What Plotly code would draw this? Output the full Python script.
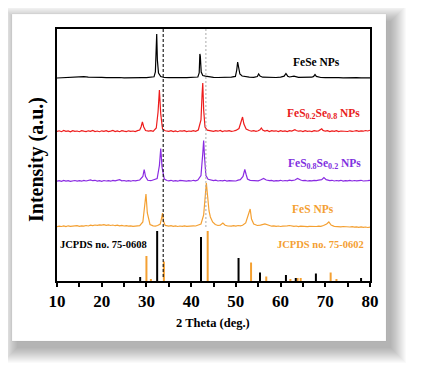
import plotly.graph_objects as go

# ---------------- data ----------------
# 2-theta positions and intensities (arbitrary units above each pattern's baseline)
fese_x = [10,11,12,13,14,15,16,17,18,19,20,21,22,23,24,25,26,27,28,29,30,31,31.7,32.0,32.15,32.3,32.45,32.7,33.2,34,35,36,37,38,39,40,41,41.5,41.8,41.95,42.05,42.25,42.6,43.2,44,45,46,47,48,49,49.9,50.2,50.4,50.6,50.9,51.4,52,53,54,54.8,55.1,55.4,56,57,58,59,60,60.8,61.2,61.6,62,63,64,65,66,67,67.4,67.7,68,68.6,69,70,71,72,73,74,75,76,77,78,79,80]
fese_y = [0,0.3,0.6,0.9,1.2,1.0,1.3,0.8,1.0,0.6,0.7,0.4,0.6,0.3,0.5,0.2,0.4,0.3,0.5,0.3,0.4,0.6,1.2,6,25,44,18,5,1.5,0.5,0.4,0.2,0.5,0.3,0.4,0.5,0.6,1.0,5,24,22,6,2.5,1.8,1.0,0.6,0.5,0.4,0.6,0.8,1.6,8,16,9,4,2,1.3,0.8,0.7,1.5,4,2,0.8,0.5,0.8,0.5,0.9,1.8,4.5,1.8,1.0,1.8,0.6,0.5,0.7,0.8,1.6,3.5,1.6,0.8,0.5,0.3,0.5,0.2,0.4,0.1,0.4,0.2,0.4,0.1,0.3,0.2]

fes28_x = [10,10.5,11,11.5,12,12.5,13,13.5,14,14.5,15,15.5,16,16.5,17,17.5,18,18.5,19,19.5,20,20.5,21,21.5,22,22.5,23,23.5,24,24.5,25,25.5,26,26.5,27,27.5,28,28.5,28.8,29.1,29.4,29.8,30.5,31,31.5,32.2,32.6,32.9,33.2,33.6,34.2,35,35.5,36,36.5,37,37.5,38,38.5,39,39.5,40,40.5,41,41.6,42.2,42.45,42.6,42.8,43.1,43.6,44.3,45,45.5,46,46.5,47,47.5,48,48.5,49,49.5,50,50.7,51.2,51.5,51.8,52.3,53,53.5,54,54.5,55,55.4,55.7,56,56.5,57,57.5,58,58.5,59,59.5,60,60.5,61,61.5,62,62.5,63,63.2,63.5,64,64.5,65,65.5,66,66.5,67,67.5,68,68.5,68.9,69.2,69.5,70,70.5,71,71.5,72,72.5,73,73.5,74,74.5,75,75.5,76,76.5,77,77.5,78,78.5,79,79.5,80]
fes28_y = [0.5,1.2,0.3,1.5,0.6,1.1,0.2,1.4,0.7,1.0,0.3,1.3,0.8,0.4,1.2,0.6,1.5,0.5,1.0,0.3,1.2,0.7,1.4,0.4,0.9,1.5,0.5,1.1,0.3,1.3,0.8,0.4,1.2,0.6,1.0,0.5,1.4,2,5,10,5,1.5,0.8,1.3,0.6,4,20,42,18,3,1.2,0.6,1.4,0.5,1.1,0.3,1.2,0.8,1.4,0.5,1.0,0.7,1.3,0.6,2,12,38,49,22,5,1.8,1.2,0.6,1.3,0.8,1.5,0.5,1.2,0.9,1.4,0.6,1.0,1.6,3.5,11,15,8,3,1.5,0.8,1.4,0.6,1.2,2.2,4,2,1.0,1.5,0.5,1.3,0.8,1.2,0.4,1.4,0.7,1.1,0.5,1.3,0.9,1.4,2.3,1.5,0.8,1.2,0.4,1.3,0.7,1.0,0.5,1.4,0.9,1.2,2,3.2,1.6,0.8,1.3,0.5,1.1,0.7,1.4,0.4,1.0,0.8,1.3,0.5,1.2,0.7,1.0,1.4,0.6,1.2,0.8,1.5,1.0,1.8]

fes82_x = [10,10.5,11,11.5,12,12.5,13,13.5,14,14.5,15,15.5,16,16.5,17,17.5,18,18.5,19,19.5,20,20.5,21,21.5,22,22.5,23,23.5,24,24.5,25,25.5,26,26.5,27,27.5,28,28.5,29.2,29.5,29.8,30.3,31,31.5,32.4,32.9,33.2,33.5,34,34.6,35,35.5,36,36.5,37,37.5,38,38.5,39,39.5,40,40.5,41,41.5,42.2,42.6,42.8,43.0,43.3,43.8,44.5,45,45.5,46,46.5,47,47.5,48,48.5,49,49.5,50,50.5,51,51.6,52.0,52.3,52.6,53.2,54,54.5,55,55.5,56.2,56.8,57.5,58,58.5,59,59.5,60,60.5,61,61.5,62,62.5,63.2,63.8,64.5,65,65.5,66,66.5,67,67.5,68,68.5,69.2,69.7,70.2,71,71.5,72,72.5,73,73.5,74,74.5,75,75.5,76,76.5,77,77.5,78,78.5,79,79.5,80]
fes82_y = [0.3,0.8,0.2,1.0,0.4,0.9,0.1,0.7,1.0,0.4,0.8,0.3,1.1,0.5,0.9,1.6,0.8,1.2,0.4,0.9,0.2,1.0,0.5,0.8,0.3,1.1,0.6,0.9,1.8,0.7,1.0,0.4,0.8,0.3,1.0,0.6,0.9,1.5,5,12,5,1.2,0.8,1.4,3,16,33,14,2.5,1.0,0.6,1.2,0.4,0.9,0.3,1.1,0.7,1.0,0.4,0.8,0.5,1.2,0.7,1.5,6,28,41,24,6,2.2,1.2,0.8,1.3,0.5,1.0,0.6,1.2,0.4,0.9,0.7,1.1,0.5,1.3,1.8,5,12,7,2.5,1.2,0.8,1.3,0.6,1.5,3,1.5,0.8,1.1,0.4,0.9,0.6,1.2,0.5,1.0,0.7,1.3,0.9,1.5,3,1.5,0.8,1.1,0.5,0.9,0.6,1.2,0.8,1.3,1.8,4,1.8,0.9,1.2,0.5,1.0,0.7,1.2,0.4,0.9,0.6,1.1,0.5,1.0,0.7,0.9,1.2,0.5,1.0,0.8,1.1,0.7]

fes_x = [10,10.5,11,11.5,12,12.5,13,13.5,14,14.5,15,15.5,16,16.5,17,17.5,18,18.5,19,19.5,20,20.5,21,21.5,22,22.5,23,23.5,24,24.5,25,25.5,26,26.5,27,27.5,28,28.5,29.2,29.6,29.9,30.2,30.8,31.5,32,32.5,33.1,33.4,33.6,33.8,34.2,35,35.5,36,36.5,37,37.5,38,38.5,39,39.5,40,40.5,41,41.5,42.2,42.8,43.1,43.4,43.7,44.0,44.3,44.8,45.4,46,46.5,47.1,47.6,48.2,49,49.5,50,50.5,51,51.5,52.2,52.8,53.2,53.5,54,54.8,55.5,56.5,57.2,58,58.5,59,59.5,60,60.5,61,61.5,62,62.5,63,63.5,64,64.5,65,65.5,66,66.5,67,67.5,68,68.5,69,69.6,70.3,70.8,71.3,72,72.5,73,73.5,74,74.5,75,75.5,76,76.5,77,77.5,78,78.5,79,79.5,80]
fes_y = [0.3,0.9,0.5,1.1,0.4,1.2,0.6,1.0,0.8,1.3,0.7,1.2,0.9,1.5,1.0,1.8,1.4,2.0,1.6,2.2,1.8,2.4,1.7,2.1,1.5,2.0,1.3,1.8,1.2,1.6,1.0,1.4,0.9,1.2,0.7,1.1,0.8,1.4,5,20,33,14,2.5,1.2,0.9,1.5,3,9,14,6,1.6,0.8,1.3,0.6,1.1,0.5,1.0,0.7,1.2,0.6,1.0,0.8,1.2,1.0,1.6,3,12,32,44,30,16,10,5,2.5,1.5,1.8,4,1.8,1.0,0.8,1.3,0.9,1.5,1.1,1.8,4,12,18,8,3,1.5,1.8,3,1.6,0.8,1.2,0.6,1.0,0.5,0.9,0.7,1.1,1.5,0.9,0.6,1.0,0.4,0.8,0.5,0.9,0.3,0.7,0.4,0.8,0.5,0.9,0.6,1.5,3,5,2,0.7,0.3,0.6,0.2,0.5,0.1,0.4,0.0,0.3,-0.2,0.2,-0.3,0.1,-0.4,0.0,-0.5,-0.2,-0.6]

# stacking offsets of the four patterns (baseline levels)
offsets = [203, 149, 99.5, 54]

# JCPDS reference sticks
jcpds0608_pos = [28.6, 32.4, 42.2, 50.6, 55.4, 61.2, 63.4, 67.9, 78.0]
jcpds0608_int = [4, 50, 44, 23, 8.5, 6, 3, 7.5, 3]
jcpds0602_pos = [30.0, 31.0, 33.9, 43.7, 53.4, 56.8, 62.2, 63.8, 64.5, 71.2, 72.5]
jcpds0602_int = [25, 2, 19.5, 50, 18.5, 4.5, 2, 3, 3, 8.5, 2]

ref_lines = [33.75, 43.3]

x_ticks = [10, 20, 30, 40, 50, 60, 70, 80]

series_names = ["FeSe NPs", "FeS0.2Se0.8 NPs", "FeS0.8Se0.2 NPs", "FeS NPs"]
series_colors = ["#000000", "#ee1c1c", "#8a2be2", "#f4a032"]

# ---------------- figure ----------------
BODY = 8  # default page body margin of the html page
W, H = 423 - BODY, 377 - BODY
# plot-area edges in page pixels
L, R, T, B = 57, 370, 29, 281


def px(xp):
    return (xp - L) / (R - L)


def py(yp):
    return (B - yp) / (B - T)


fig = go.Figure()

series = [(fese_x, fese_y), (fes28_x, fes28_y), (fes82_x, fes82_y), (fes_x, fes_y)]
for (sx, sy), off, col, name in zip(series, offsets, series_colors, series_names):
    fig.add_trace(go.Scatter(x=sx, y=[v + off for v in sy], mode="lines",
                             line=dict(color=col, width=1.2), name=name,
                             showlegend=False, hoverinfo="skip"))


def sticks(pos, inten):
    xs, ys = [], []
    for p, h in zip(pos, inten):
        xs += [p, p, None]
        ys += [0, h, None]
    return xs, ys


sx, sy = sticks(jcpds0602_pos, jcpds0602_int)
fig.add_trace(go.Scatter(x=sx, y=sy, mode="lines", line=dict(color="#f4a032", width=2),
                         showlegend=False, hoverinfo="skip"))
sx, sy = sticks(jcpds0608_pos, jcpds0608_int)
fig.add_trace(go.Scatter(x=sx, y=sy, mode="lines", line=dict(color="#000000", width=2),
                         showlegend=False, hoverinfo="skip"))

shapes = []
# card drop shadow
for k in range(16):
    shapes.append(dict(type="rect", xref="paper", yref="paper", layer="below",
                       x0=px(12 + 5 - k), x1=px(386 + 5 + k),
                       y0=py(14 + 7 - k), y1=py(341 + 7 + k),
                       line=dict(width=0), fillcolor="rgba(0,0,0,0.018)"))
shapes.append(dict(type="rect", xref="paper", yref="paper", layer="below",
                   x0=px(12), x1=px(386), y0=py(14), y1=py(341),
                   line=dict(width=0.6, color="rgba(0,0,0,0.06)"), fillcolor="white"))

# reference dashed lines
shapes.append(dict(type="line", xref="x", yref="y", x0=ref_lines[0], x1=ref_lines[0],
                   y0=4, y1=252, line=dict(color="#111111", width=1.1, dash="3px,2px")))
shapes.append(dict(type="line", xref="x", yref="y", x0=ref_lines[1], x1=ref_lines[1],
                   y0=54, y1=252, line=dict(color="#aaaaaa", width=1, dash="2px,2px")))

serif = "Liberation Serif, Times New Roman, serif"
ann = []


def label(text, xc, yc, color, size=11, xanchor="center"):
    ann.append(dict(text=text, xref="paper", yref="paper", x=px(xc), y=py(yc),
                    showarrow=False, xanchor=xanchor, yanchor="middle",
                    font=dict(family=serif, size=size, color=color, weight="bold")))


label("FeSe NPs", 316, 62, "#000000", size=11.5)
label("FeS<sub>0.2</sub>Se<sub>0.8</sub> NPs", 323, 114, "#e8201c", size=11.5)
label("FeS<sub>0.8</sub>Se<sub>0.2</sub> NPs", 324, 164, "#8030e0", size=11.5)
label("FeS NPs", 313, 209, "#f4a032", size=11.5)
label("JCPDS no. 75-0602", 320, 244, "#f4a032", size=10.5)
label("JCPDS no. 75-0608", 58, 244, "#000000", size=10.5, xanchor="left")
label("2 Theta (deg.)", 213, 323, "#000000", size=12.5)
ann.append(dict(text="Intensity (a.u.)", xref="paper", yref="paper", x=px(37), y=py(160),
                showarrow=False, textangle=-90, xanchor="center", yanchor="middle",
                font=dict(family=serif, size=20, color="#000000", weight="bold")))

fig.update_layout(
    width=W, height=H,
    margin=dict(l=L - BODY, r=423 - R, t=T - BODY, b=377 - B),
    paper_bgcolor="white", plot_bgcolor="rgba(0,0,0,0)",
    shapes=shapes, annotations=ann, showlegend=False,
    xaxis=dict(range=[10, 80], tickvals=x_ticks, ticktext=[str(v) for v in x_ticks],
               ticks="outside", ticklen=4, tickwidth=1.5, tickcolor="black",
               minor=dict(dtick=5, tick0=10, ticks="outside", ticklen=4, tickwidth=1.5, tickcolor="black"),
               showline=True, linewidth=2, linecolor="black", mirror=True,
               showgrid=False, zeroline=False,
               tickfont=dict(family=serif, size=17, color="black", weight="bold")),
    yaxis=dict(range=[0, 252], showticklabels=False, ticks="",
               showline=True, linewidth=2, linecolor="black", mirror=True,
               showgrid=False, zeroline=False),
)

fig.write_html("out.html")
